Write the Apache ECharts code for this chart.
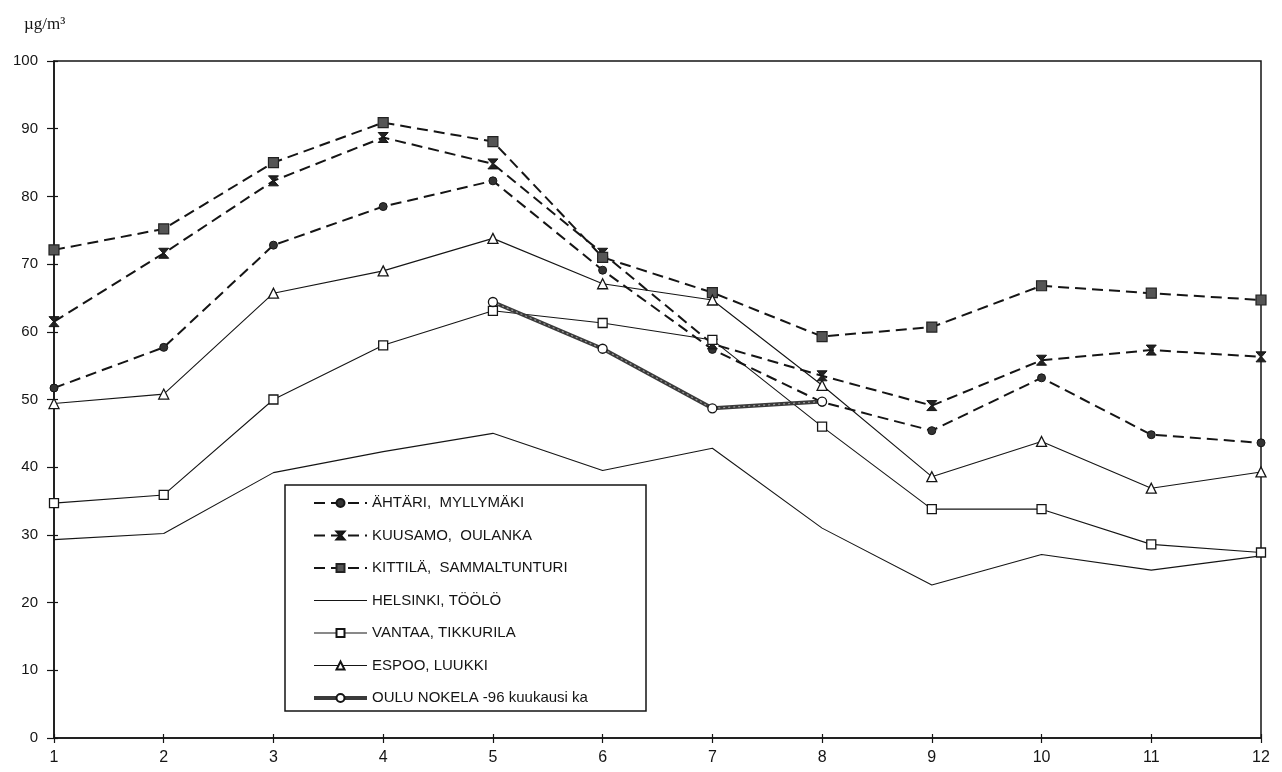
<!DOCTYPE html>
<html>
<head>
<meta charset="utf-8">
<script src="https://cdn.jsdelivr.net/npm/echarts@6/dist/echarts.min.js"></script>
<style>
  html, body { margin: 0; padding: 0; background: #fff; }
  #chart { width: 1282px; height: 772px; }
</style>
</head>
<body>
<div id="chart"></div>
<script>
const months = ['1','2','3','4','5','6','7','8','9','10','11','12'];
const yTicks = [0, 10, 20, 30, 40, 50, 60, 70, 80, 90, 100];
const unitLabel = 'µg/m³';

const names = [
  'ÄHTÄRI,  MYLLYMÄKI',
  'KUUSAMO,  OULANKA',
  'KITTILÄ,  SAMMALTUNTURI',
  'HELSINKI, TÖÖLÖ',
  'VANTAA, TIKKURILA',
  'ESPOO, LUUKKI',
  'OULU NOKELA -96 kuukausi ka'
];

const ahtari   = [51.7, 57.7, 72.8, 78.5, 82.3, 69.1, 57.4, 49.6, 45.4, 53.2, 44.8, 43.6];
const kuusamo  = [61.5, 71.6, 82.3, 88.7, 84.8, 71.6, 58.2, 53.5, 49.1, 55.8, 57.3, 56.3];
const kittila  = [72.1, 75.2, 85.0, 90.9, 88.1, 71.0, 65.8, 59.3, 60.7, 66.8, 65.7, 64.7];
const helsinki = [29.3, 30.2, 39.2, 42.3, 45.0, 39.5, 42.8, 31.0, 22.6, 27.1, 24.8, 26.9];
const vantaa   = [34.7, 35.9, 50.0, 58.0, 63.1, 61.3, 58.8, 46.0, 33.8, 33.8, 28.6, 27.4];
const espoo    = [49.4, 50.8, 65.7, 69.0, 73.8, 67.1, 64.7, 52.1, 38.6, 43.8, 36.9, 39.3];
const oulu     = [null, null, null, null, 64.4, 57.5, 48.7, 49.7, null, null, null, null];

const FONT = 'Liberation Sans, Arial, sans-serif';
const INK = '#151515';
const dashed = { color: INK, width: 2, type: [11, 6] };
const thin = { color: INK, width: 1.1, type: 'solid' };
const ouluLine = { color: '#3a3a3a', width: 4, type: 'solid' };

const hourglass = 'path://M0,0 L10,0 L5.6,5 L10,10 L0,10 L4.4,5 Z';

const chart = echarts.init(document.getElementById('chart'), null, { renderer: 'canvas' });

const legendData = names.map(function (n, i) {
  if (i === 3) {
    return { name: n, lineStyle: { width: 1.2 }, itemStyle: { color: 'transparent', borderColor: 'transparent', borderWidth: 0, opacity: 0 } };
  }
  if (i === 4 || i === 5) {
    return { name: n, lineStyle: { width: 1.2 } };
  }
  if (i === 6) {
    return { name: n, lineStyle: { width: 4, color: '#3a3a3a' } };
  }
  return { name: n };
});

chart.setOption({
  animation: false,
  backgroundColor: '#fff',
  textStyle: { fontFamily: FONT },
  grid: {
    left: 54, right: 21, top: 61, bottom: 34,
    show: true, borderColor: INK, borderWidth: 1.5, backgroundColor: 'transparent'
  },
  graphic: [
    {
      type: 'text', left: 24, top: 16, z: 10,
      style: { text: unitLabel, font: '17px "Liberation Serif", "Times New Roman", serif', fill: INK }
    },
    {
      type: 'rect', z: 3,
      shape: { x: 285, y: 485, width: 361, height: 226 },
      style: { fill: '#fff', stroke: INK, lineWidth: 1.5 }
    }
  ],
  legend: {
    orient: 'vertical',
    left: 312, top: 495, z: 4,
    itemWidth: 53, itemHeight: 10, itemGap: 16.5,
    padding: 0,
    textStyle: { fontFamily: FONT, fontSize: 15, color: INK, lineHeight: 16 },
    data: legendData
  },
  xAxis: [
    {
      type: 'category', data: months, boundaryGap: false,
      axisLine: { lineStyle: { color: INK, width: 1.5 } },
      axisTick: { show: true, alignWithLabel: true, length: 5, lineStyle: { color: INK, width: 1.2 } },
      axisLabel: { color: INK, fontSize: 16, margin: 12, fontFamily: FONT },
      splitLine: { show: false }
    },
    {
      type: 'category', data: months, boundaryGap: false, position: 'bottom',
      axisLine: { show: false },
      axisTick: { show: true, inside: true, length: 4, lineStyle: { color: INK, width: 1.2 } },
      axisLabel: { show: false },
      splitLine: { show: false }
    }
  ],
  yAxis: [
    {
      type: 'value', min: yTicks[0], max: yTicks[yTicks.length - 1], interval: 10,
      axisLine: { show: true, lineStyle: { color: INK, width: 1.5 } },
      axisTick: { show: true, length: 7, lineStyle: { color: INK, width: 1.2 } },
      axisLabel: { color: INK, fontSize: 15, margin: 16, fontFamily: FONT },
      splitLine: { show: false }
    },
    {
      type: 'value', min: yTicks[0], max: yTicks[yTicks.length - 1], interval: 10, position: 'left',
      axisLine: { show: false },
      axisTick: { show: true, inside: true, length: 4, lineStyle: { color: INK, width: 1.2 } },
      axisLabel: { show: false },
      splitLine: { show: false }
    }
  ],
  series: [
    {
      name: names[0], type: 'line', data: ahtari,
      symbol: 'circle', symbolSize: 8,
      lineStyle: dashed,
      itemStyle: { color: '#333', borderColor: INK, borderWidth: 1 }
    },
    {
      name: names[1], type: 'line', data: kuusamo,
      symbol: hourglass, symbolSize: [10, 10],
      lineStyle: dashed,
      itemStyle: { color: '#222', borderColor: INK, borderWidth: 1 }
    },
    {
      name: names[2], type: 'line', data: kittila,
      symbol: 'rect', symbolSize: 10,
      lineStyle: dashed,
      itemStyle: { color: '#555', borderColor: '#222', borderWidth: 1.2 }
    },
    {
      name: names[3], type: 'line', data: helsinki,
      symbol: 'none', showSymbol: false,
      lineStyle: thin,
      itemStyle: { color: INK }
    },
    {
      name: names[4], type: 'line', data: vantaa,
      symbol: 'rect', symbolSize: 9,
      lineStyle: thin,
      itemStyle: { color: '#fff', borderColor: INK, borderWidth: 1.3 }
    },
    {
      name: names[5], type: 'line', data: espoo,
      symbol: 'triangle', symbolSize: 10,
      lineStyle: thin,
      itemStyle: { color: '#fff', borderColor: INK, borderWidth: 1.3 }
    },
    {
      name: names[6], type: 'line', data: oulu,
      symbol: 'circle', symbolSize: 9,
      lineStyle: ouluLine,
      itemStyle: { color: '#fff', borderColor: INK, borderWidth: 1.3 },
      z: 3
    },
    {
      name: 'oulu-hatch', type: 'line', data: oulu,
      symbol: 'none', silent: true,
      lineStyle: { color: '#9a9a9a', width: 1.2, type: [2, 3] },
      z: 3
    }
  ]
});
</script>
</body>
</html>
